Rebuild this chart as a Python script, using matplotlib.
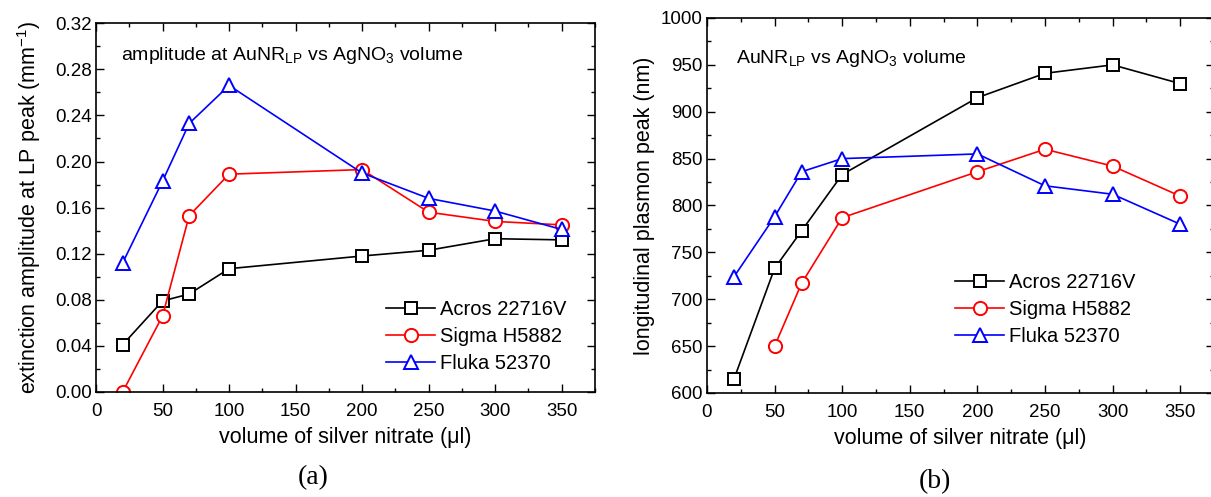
import numpy as np
import matplotlib
matplotlib.use("Agg")
import matplotlib.pyplot as plt
from matplotlib.ticker import MultipleLocator, FormatStrFormatter

plt.rcParams['font.family'] = ['Liberation Sans', 'DejaVu Sans']
plt.rcParams['mathtext.fontset'] = 'custom'
plt.rcParams['mathtext.rm'] = 'Liberation Sans'
plt.rcParams['mathtext.it'] = 'Liberation Sans:italic'

# data
vol = [20, 50, 70, 100, 200, 250, 300, 350]
vol_sigma_b = [50, 70, 100, 200, 250, 300, 350]

amp_acros = [0.041, 0.079, 0.085, 0.107, 0.118, 0.123, 0.133, 0.132]
amp_sigma = [0.000, 0.066, 0.153, 0.189, 0.193, 0.156, 0.148, 0.145]
amp_fluka = [0.112, 0.183, 0.233, 0.266, 0.190, 0.168, 0.157, 0.141]

peak_acros = [615, 733, 773, 833, 915, 941, 950, 930]
peak_sigma = [650, 717, 787, 836, 860, 842, 810]
peak_fluka = [724, 788, 836, 850, 855, 821, 812, 780]

names = ['Acros 22716V', 'Sigma H5882', 'Fluka 52370']
colors = ['black', 'red', 'blue']
markers = ['s', 'o', '^']
msizes = [9, 9.5, 10.5]

fig = plt.figure(figsize=(12.11, 4.97), dpi=100)
ax1 = fig.add_axes([0.0793, 0.2113, 0.412, 0.742])
ax2 = fig.add_axes([0.5838, 0.2093, 0.4187, 0.7545])

def style(ax):
    ax.xaxis.set_major_locator(MultipleLocator(50))
    ax.xaxis.set_minor_locator(MultipleLocator(25))
    ax.tick_params(which='both', direction='in', top=True, right=True,
                   labelsize=13.5, width=1)
    ax.tick_params(which='major', length=6)
    ax.tick_params(which='minor', length=3)
    ax.tick_params(axis='x', which='major', pad=8)
    ax.tick_params(axis='y', which='major', pad=3)
    for s in ax.spines.values():
        s.set_linewidth(1.2)
    ax.set_xlim(0, 375)
    ax.set_xlabel('volume of silver nitrate (\u03bcl)', fontsize=15.5, labelpad=5)

kw = dict(lw=1.2, mew=1.4, mfc='white')

for y, c, m, s, n in zip([amp_acros, amp_sigma, amp_fluka], colors, markers, msizes, names):
    ax1.plot(vol, y, color=c, marker=m, mec=c, ms=s, label=n, **kw)
ax1.set_ylim(0, 0.32)
ax1.yaxis.set_major_locator(MultipleLocator(0.04))
ax1.yaxis.set_minor_locator(MultipleLocator(0.02))
ax1.yaxis.set_major_formatter(FormatStrFormatter('%.2f'))
style(ax1)
ax1.set_ylabel('extinction amplitude at LP peak (mm$^{-1}$)', fontsize=15.5, labelpad=9)
ax1.text(0.05, 0.9, 'amplitude at AuNR$_{\\mathrm{LP}}$ vs AgNO$_3$ volume',
         transform=ax1.transAxes, fontsize=14, va='baseline')
ax1.legend(loc='center left', bbox_to_anchor=(0.561, 0.15), frameon=False,
           borderpad=0, fontsize=14.5, handlelength=2.45, handletextpad=0.25,
           labelspacing=0.4)

for x, y, c, m, s, n in zip([vol, vol_sigma_b, vol], [peak_acros, peak_sigma, peak_fluka],
                            colors, markers, msizes, names):
    ax2.plot(x, y, color=c, marker=m, mec=c, ms=s, label=n, **kw)
ax2.set_ylim(600, 1000)
ax2.yaxis.set_major_locator(MultipleLocator(50))
ax2.yaxis.set_minor_locator(MultipleLocator(25))
style(ax2)
ax2.set_ylabel('longitudinal plasmon peak (nm)', fontsize=15.5, labelpad=4)
ax2.text(0.057, 0.88, 'AuNR$_{\\mathrm{LP}}$ vs AgNO$_3$ volume',
         transform=ax2.transAxes, fontsize=14, va='baseline')
ax2.legend(loc='center left', bbox_to_anchor=(0.469, 0.222), frameon=False,
           borderpad=0, fontsize=14.5, handlelength=2.45, handletextpad=0.25,
           labelspacing=0.4)

fig.text(313 / 1211, 1 - 478 / 497, '(a)', family='Liberation Serif', fontsize=20,
         ha='center', va='center')
fig.text(935 / 1211, 1 - 482 / 497, '(b)', family='Liberation Serif', fontsize=20,
         ha='center', va='center')

fig.savefig('out.png', dpi=100)
